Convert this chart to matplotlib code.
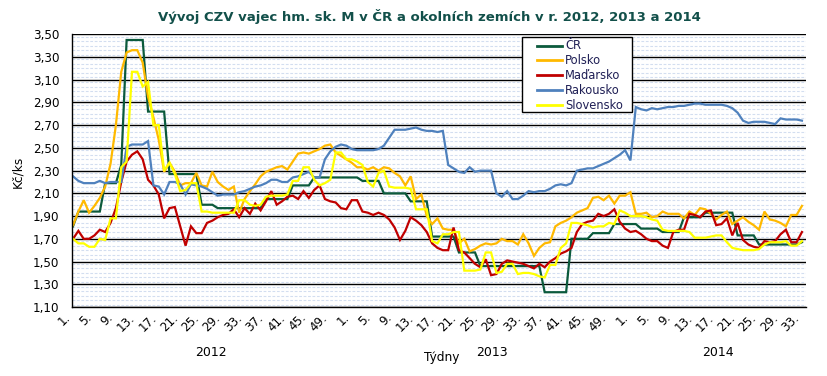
import numpy as np
import matplotlib
matplotlib.use("Agg")
import matplotlib.pyplot as plt
from matplotlib.ticker import MultipleLocator, FixedLocator
from matplotlib.lines import Line2D
from matplotlib.patches import Rectangle

plt.rcParams['font.family'] = ['DejaVu Sans']

title = "Vývoj CZV vajec hm. sk. M v ČR a okolních zemích v r. 2012, 2013 a 2014"
series_names = ["ČR", "Polsko", "Maďarsko", "Rakousko", "Slovensko"]
years = ["2012", "2013", "2014"]
weeks_per_year = [52, 52, 33]
ylabel = "Kč/ks"
xlabel = "Týdny"

cr = ([1.81] + [1.94]*5 + [2.19]*3 + [2.35] + [3.45]*4 + [2.82]*4 + [2.27]*6 + [2.00]*3 +
      [1.97]*9 + [2.05]*5 + [2.17]*4 + [2.24]*9 + [2.21]*4 + [2.10]*5 + [2.03]*4 +
      [1.72]*5 + [1.58]*4 + [1.46]*12 + [1.23]*5 + [1.70]*4 + [1.75]*4 + [1.83]*5 +
      [1.79]*4 + [1.76]*4 + [1.89]*4 + [1.93]*6 + [1.73]*4 + [1.65]*8 + [1.67])

pl = [1.82, 1.94, 2.04, 1.93, 1.99, 2.06, 2.16, 2.36, 2.70, 3.17,
      3.34, 3.36, 3.36, 3.25, 2.95, 2.77, 2.57, 2.29, 2.37, 2.29,
      2.17, 2.19, 2.19, 2.28, 2.17, 2.16, 2.29, 2.20, 2.16, 2.13,
      2.16, 1.93, 2.05, 2.12, 2.18, 2.25, 2.29, 2.31, 2.33, 2.34,
      2.31, 2.38, 2.45, 2.46, 2.45, 2.47, 2.49, 2.52, 2.53, 2.46,
      2.43, 2.40, 2.37, 2.33, 2.33, 2.31, 2.33, 2.30, 2.33, 2.32,
      2.28, 2.25, 2.17, 2.25, 2.05, 2.09, 1.90, 1.83, 1.88, 1.79,
      1.78, 1.78, 1.66, 1.70, 1.59, 1.61, 1.64, 1.66, 1.65, 1.66,
      1.70, 1.68, 1.68, 1.65, 1.74, 1.66, 1.55, 1.62, 1.66, 1.67,
      1.81, 1.84, 1.86, 1.89, 1.93, 1.95, 1.97, 2.06, 2.07, 2.04,
      2.08, 2.01, 2.08, 2.08, 2.11, 1.92, 1.92, 1.93, 1.89, 1.90,
      1.94, 1.92, 1.92, 1.92, 1.88, 1.94, 1.91, 1.97, 1.96, 1.92,
      1.87, 1.91, 1.94, 1.83, 1.86, 1.89, 1.85, 1.82, 1.78, 1.94,
      1.87, 1.86, 1.84, 1.81, 1.91, 1.91, 1.99]

hu = [1.70, 1.77, 1.70, 1.70, 1.73, 1.78, 1.76, 1.84, 1.97, 2.20,
      2.38, 2.44, 2.47, 2.40, 2.22, 2.17, 2.09, 1.88, 1.97, 1.98,
      1.81, 1.64, 1.81, 1.75, 1.75, 1.84, 1.86, 1.89, 1.91, 1.92,
      1.96, 1.89, 1.97, 1.92, 2.01, 1.95, 2.03, 2.12, 2.00, 2.03,
      2.07, 2.08, 2.05, 2.12, 2.06, 2.13, 2.17, 2.05, 2.03, 2.02,
      1.97, 1.96, 2.04, 2.04, 1.94, 1.93, 1.91, 1.93, 1.91, 1.87,
      1.80, 1.69, 1.77, 1.89, 1.86, 1.82, 1.76, 1.66, 1.62, 1.60,
      1.60, 1.80, 1.60, 1.58, 1.53, 1.48, 1.45, 1.52, 1.38, 1.39,
      1.48, 1.51, 1.50, 1.49, 1.48, 1.46, 1.44, 1.48, 1.45, 1.50,
      1.53, 1.57, 1.59, 1.62, 1.76, 1.83, 1.85, 1.86, 1.92, 1.90,
      1.92, 1.96, 1.85, 1.79, 1.76, 1.77, 1.74, 1.70, 1.68, 1.68,
      1.64, 1.62, 1.76, 1.78, 1.78, 1.92, 1.91, 1.89, 1.94, 1.95,
      1.82, 1.83, 1.88, 1.73, 1.84, 1.69, 1.65, 1.63, 1.62, 1.68,
      1.67, 1.68, 1.74, 1.78, 1.67, 1.67, 1.76]

at = [2.25, 2.21, 2.19, 2.19, 2.19, 2.21, 2.19, 2.20, 2.20, 2.20,
      2.51, 2.53, 2.53, 2.53, 2.56, 2.17, 2.16, 2.09, 2.20, 2.20,
      2.18, 2.09, 2.18, 2.17, 2.16, 2.14, 2.11, 2.08, 2.09, 2.09,
      2.09, 2.11, 2.12, 2.14, 2.16, 2.17, 2.19, 2.22, 2.22, 2.20,
      2.20, 2.24, 2.25, 2.27, 2.29, 2.24, 2.24, 2.40, 2.47, 2.51,
      2.53, 2.52, 2.49, 2.48, 2.48, 2.48, 2.48, 2.49, 2.52, 2.59,
      2.66, 2.66, 2.66, 2.67, 2.68, 2.66, 2.65, 2.65, 2.64, 2.65,
      2.35, 2.32, 2.29, 2.28, 2.33, 2.29, 2.30, 2.30, 2.30, 2.10,
      2.07, 2.12, 2.05, 2.05, 2.08, 2.12, 2.11, 2.12, 2.12, 2.14,
      2.17, 2.18, 2.17, 2.19, 2.30, 2.31, 2.32, 2.32, 2.34, 2.36,
      2.38, 2.41, 2.44, 2.48, 2.39, 2.86, 2.84, 2.83, 2.85, 2.84,
      2.85, 2.86, 2.86, 2.87, 2.87, 2.88, 2.89, 2.89, 2.88, 2.88,
      2.88, 2.88, 2.87, 2.85, 2.81, 2.74, 2.72, 2.73, 2.73, 2.73,
      2.72, 2.71, 2.76, 2.75, 2.75, 2.75, 2.74]

sk = [1.70, 1.66, 1.66, 1.63, 1.63, 1.70, 1.69, 1.88, 1.88, 2.33,
      2.38, 3.17, 3.17, 3.04, 3.08, 2.70, 2.70, 2.30, 2.37, 2.27,
      2.12, 2.13, 2.19, 2.19, 1.94, 1.94, 1.93, 1.93, 1.93, 1.93,
      1.93, 2.04, 2.04, 2.00, 1.99, 2.00, 2.07, 2.08, 2.08, 2.08,
      2.09, 2.21, 2.21, 2.33, 2.33, 2.22, 2.17, 2.19, 2.22, 2.46,
      2.46, 2.40, 2.40, 2.38, 2.35, 2.20, 2.16, 2.28, 2.30, 2.16,
      2.15, 2.15, 2.15, 2.14, 1.96, 1.96, 1.96, 1.68, 1.66, 1.74,
      1.74, 1.76, 1.76, 1.42, 1.42, 1.42, 1.43, 1.58, 1.58, 1.40,
      1.41, 1.48, 1.48, 1.39, 1.40, 1.40, 1.39, 1.37, 1.36, 1.47,
      1.47, 1.62, 1.66, 1.84, 1.84, 1.83, 1.82, 1.80, 1.81, 1.81,
      1.84, 1.83, 1.95, 1.93, 1.90, 1.90, 1.90, 1.89, 1.87, 1.86,
      1.78, 1.77, 1.77, 1.77, 1.77, 1.76, 1.71, 1.71, 1.71, 1.72,
      1.73, 1.73, 1.67, 1.62, 1.61, 1.60, 1.60, 1.60, 1.61, 1.65,
      1.67, 1.67, 1.67, 1.68, 1.64, 1.64, 1.68]

colors = ["#0B5A3C", "#FFB900", "#C00000", "#4F81BD", "#FFFF00"]

# week tick labels every 4 weeks
tick_pos = []
tick_lab = []
offset = 0
for nw in weeks_per_year:
    for w in range(1, nw + 1, 4):
        tick_pos.append(offset + w - 1)
        tick_lab.append(f"{w}.")
    offset += nw

W, H = 827, 376
fig = plt.figure(figsize=(W / 100, H / 100), dpi=100)
L, R, T, B = 72, 805.7, 34.3, 307
ax = fig.add_axes([L / W, 1 - B / H, (R - L) / W, (B - T) / H])

x = np.arange(len(cr))
for data, name, c in zip([cr, pl, hu, at, sk], series_names, colors):
    ax.plot(x, data, color=c, lw=1.6, label=name, solid_joinstyle='miter')

ax.set_xlim(-0.19, 136.7)
ax.set_ylim(1.10, 3.50)
yt = np.round(np.arange(1.10, 3.51, 0.2), 2)
ax.yaxis.set_major_locator(FixedLocator(yt))
ax.set_yticklabels([f"{v:.2f}".replace(".", ",") for v in yt], fontsize=8.6)
ax.yaxis.set_minor_locator(MultipleLocator(0.04))
ax.grid(which='major', axis='y', color='black', lw=1.0)
ax.grid(which='minor', axis='y', color='#D3DEF0', lw=0.8, linestyle=(0, (2.5, 1.5)))
ax.set_axisbelow(True)
ax.tick_params(axis='y', which='both', length=0, pad=9)
ax.set_xticks(tick_pos)
ax.set_xticklabels(tick_lab, rotation=45, ha='right', va='top', fontsize=8.6)
ax.tick_params(axis='x', length=0, pad=3)
for s in ['top', 'right']:
    ax.spines[s].set_visible(False)
ax.spines['left'].set_color('black')
ax.spines['bottom'].set_color('black')
ax.spines['left'].set_linewidth(1.0)
ax.spines['bottom'].set_linewidth(1.0)

fig.text(429 / W, 1 - 17 / H, title, ha='center', va='center', fontsize=9.5,
         fontweight='bold', color='#12504A')
fig.text(18 / W, 1 - 172 / H, ylabel, rotation=90, ha='center', va='center', fontsize=8.7)
year_x = [211, 492, 718]
for yx, yl in zip(year_x, years):
    fig.text(yx / W, 1 - 352 / H, yl, ha='center', va='center', fontsize=9)
fig.text(442 / W, 1 - 357 / H, xlabel, ha='center', va='center', fontsize=8.7)

# legend box drawn in figure pixel coordinates
def fx(px):
    return px / W

def fy(py):
    return 1 - py / H

box_l, box_r, box_t, box_b = 522, 632.3, 37, 112
fig.add_artist(Rectangle((fx(box_l), fy(box_b)), fx(box_r) - fx(box_l), fy(box_t) - fy(box_b),
                         transform=fig.transFigure, facecolor='white', edgecolor='black',
                         lw=1.0, zorder=10))
for k, (name, c) in enumerate(zip(series_names, colors)):
    yy = 45.5 + k * 14.9
    fig.add_artist(Line2D([fx(536.5), fx(561.5)], [fy(yy), fy(yy)], transform=fig.transFigure,
                          color=c, lw=2.0, zorder=11))
    fig.text(fx(565), fy(yy), name, ha='left', va='center', fontsize=8.3,
             color='#1F1F55', zorder=12)

fig.savefig("out.png", dpi=100, facecolor='white')
